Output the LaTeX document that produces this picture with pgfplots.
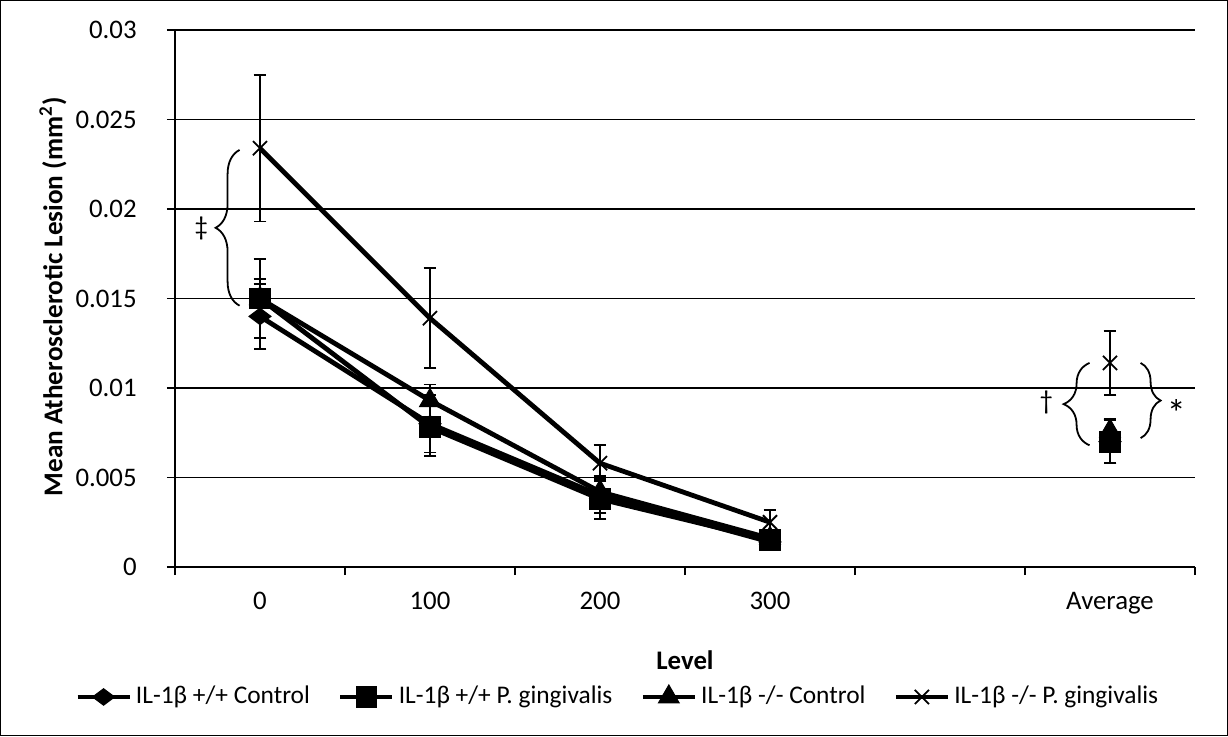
\documentclass[border=0pt]{standalone}
\usepackage{fontspec}
\setmainfont{Carlito}
\usepackage{pgfplots}
\pgfplotsset{compat=1.18}
\usetikzlibrary{decorations.pathreplacing}
\begin{document}
\fontsize{13.4}{16}\selectfont
\begin{tikzpicture}
\begin{axis}[
  scale only axis, width=510pt, height=268.5pt,
  at={(0,0)}, anchor=south west,
  clip=false,
  xmin=-0.5, xmax=5.5, ymin=0, ymax=0.03,
  scaled y ticks=false,
  xtick={0,1,2,3,4,5}, xticklabels={0,100,200,300,{},Average},
  minor xtick={-0.5,0.5,1.5,2.5,3.5,4.5,5.5},
  ytick={0,0.005,0.01,0.015,0.02,0.025,0.03},
  yticklabels={0,0.005,0.01,0.015,0.02,0.025,0.03},
  axis x line*=bottom, axis y line*=left,
  axis line style={black, line width=0.6pt},
  tick align=outside, major tick length=4pt, minor tick length=4pt,
  major x tick style={draw=none},
  minor x tick style={draw=black, line width=0.6pt},
  major y tick style={draw=black, line width=0.6pt},
  ymajorgrids, grid style={black, line width=0.6pt},
  tick label style={font=\fontsize{13.4}{16}\selectfont},
  yticklabel style={xshift=-10.5pt},
  xticklabel style={yshift=-4pt},
  xlabel={\textbf{Level}},
  xlabel style={at={(axis description cs:0.5,-0.173)}, anchor=center, font=\fontsize{13.4}{16}\selectfont},
  ylabel={\textbf{Mean Atherosclerotic Lesion (mm\textsuperscript{2})}},
  ylabel style={at={(axis description cs:-0.1196,0.503)}, anchor=center, font=\fontsize{13.6}{16}\selectfont},
  legend columns=4,
  legend style={at={(axis description cs:0.435,-0.242)}, anchor=center, draw=none,
    font=\fontsize{12.7}{15}\selectfont,
    /tikz/every even column/.append style={column sep=12pt}},
  legend image code/.code={\draw[mark repeat=2,mark phase=2,#1] plot coordinates {(0pt,0pt)(13pt,0pt)(26pt,0pt)};},
  every axis plot/.append style={black, line width=2.4pt},
  err/.style={error bars/.cd, y dir=both, y explicit,
    error bar style={line width=0.9pt, black},
    error mark options={rotate=90, mark size=3.2pt, line width=0.9pt, black, solid}},
]
% IL-1b +/+ Control
\addplot[mark=diamond*, mark size=5.5pt, mark options={rotate=90, fill=black, line width=0.5pt}, err]
 coordinates {(0,0.0140) +- (0,0.0018) (1,0.0080) +- (0,0.0016) (2,0.0040) +- (0,0.0010) (3,0.0014) +- (0,0.0004)};
\addlegendentry{IL-1β +/+ Control}
% IL-1b +/+ P. gingivalis
\addplot[mark=square*, mark size=5.2pt, mark options={fill=black, line width=0.5pt}, err]
 coordinates {(0,0.0150) +- (0,0.0022) (1,0.0078) +- (0,0.0016) (2,0.0038) +- (0,0.0011) (3,0.0015) +- (0,0.0005)};
\addlegendentry{IL-1β +/+ P. gingivalis}
% IL-1b -/- Control
\addplot[mark=triangle*, mark size=6pt, mark options={fill=black, line width=0.5pt}, err]
 coordinates {(0,0.0150) +- (0,0.0011) (1,0.0093) +- (0,0.0009) (2,0.0042) +- (0,0.0009) (3,0.0016) +- (0,0.0005)};
\addlegendentry{IL-1β -/- Control}
% IL-1b -/- P. gingivalis
\addplot[mark=x, mark size=5pt, mark options={line width=0.9pt}, err]
 coordinates {(0,0.0234) +- (0,0.0041) (1,0.0139) +- (0,0.0028) (2,0.0058) +- (0,0.0010) (3,0.0025) +- (0,0.0007)};
\addlegendentry{IL-1β -/- P. gingivalis}
% averages
\addplot[only marks, forget plot, mark=diamond*, mark size=5.5pt, mark options={rotate=90, fill=black, line width=0.5pt}, err]
 coordinates {(5,0.0070) +- (0,0.0012)};
\addplot[only marks, forget plot, mark=square*, mark size=5.2pt, mark options={fill=black, line width=0.5pt}, err]
 coordinates {(5,0.0070) +- (0,0.0012)};
\addplot[only marks, forget plot, mark=triangle*, mark size=6pt, mark options={fill=black, line width=0.5pt}, err]
 coordinates {(5,0.0076) +- (0,0.0007)};
\addplot[only marks, forget plot, mark=x, mark size=5pt, mark options={line width=0.9pt}, err]
 coordinates {(5,0.0114) +- (0,0.0018)};
% annotations
\draw[decorate, decoration={brace, amplitude=12pt}, line width=0.9pt] (axis cs:-0.12,0.0146) -- (axis cs:-0.12,0.0233);
\node[font=\fontsize{13.4}{16}\selectfont] at (axis cs:-0.346,0.0189) {‡};
\draw[decorate, decoration={brace, amplitude=13pt}, line width=0.9pt] (axis cs:4.88,0.0068) -- (axis cs:4.88,0.0114);
\node[font=\fontsize{13.4}{16}\selectfont] at (axis cs:4.625,0.0092) {†};
\draw[decorate, decoration={brace, amplitude=10pt}, line width=0.9pt] (axis cs:5.18,0.0114) -- (axis cs:5.18,0.0072);
\node[font=\fontsize{19}{20}\selectfont] at (axis cs:5.39,0.0086) {*};
\end{axis}
\draw[line width=0.6pt] (-87.2pt,-84.2pt) rectangle (526.2pt,283.2pt);
\end{tikzpicture}
\end{document}
